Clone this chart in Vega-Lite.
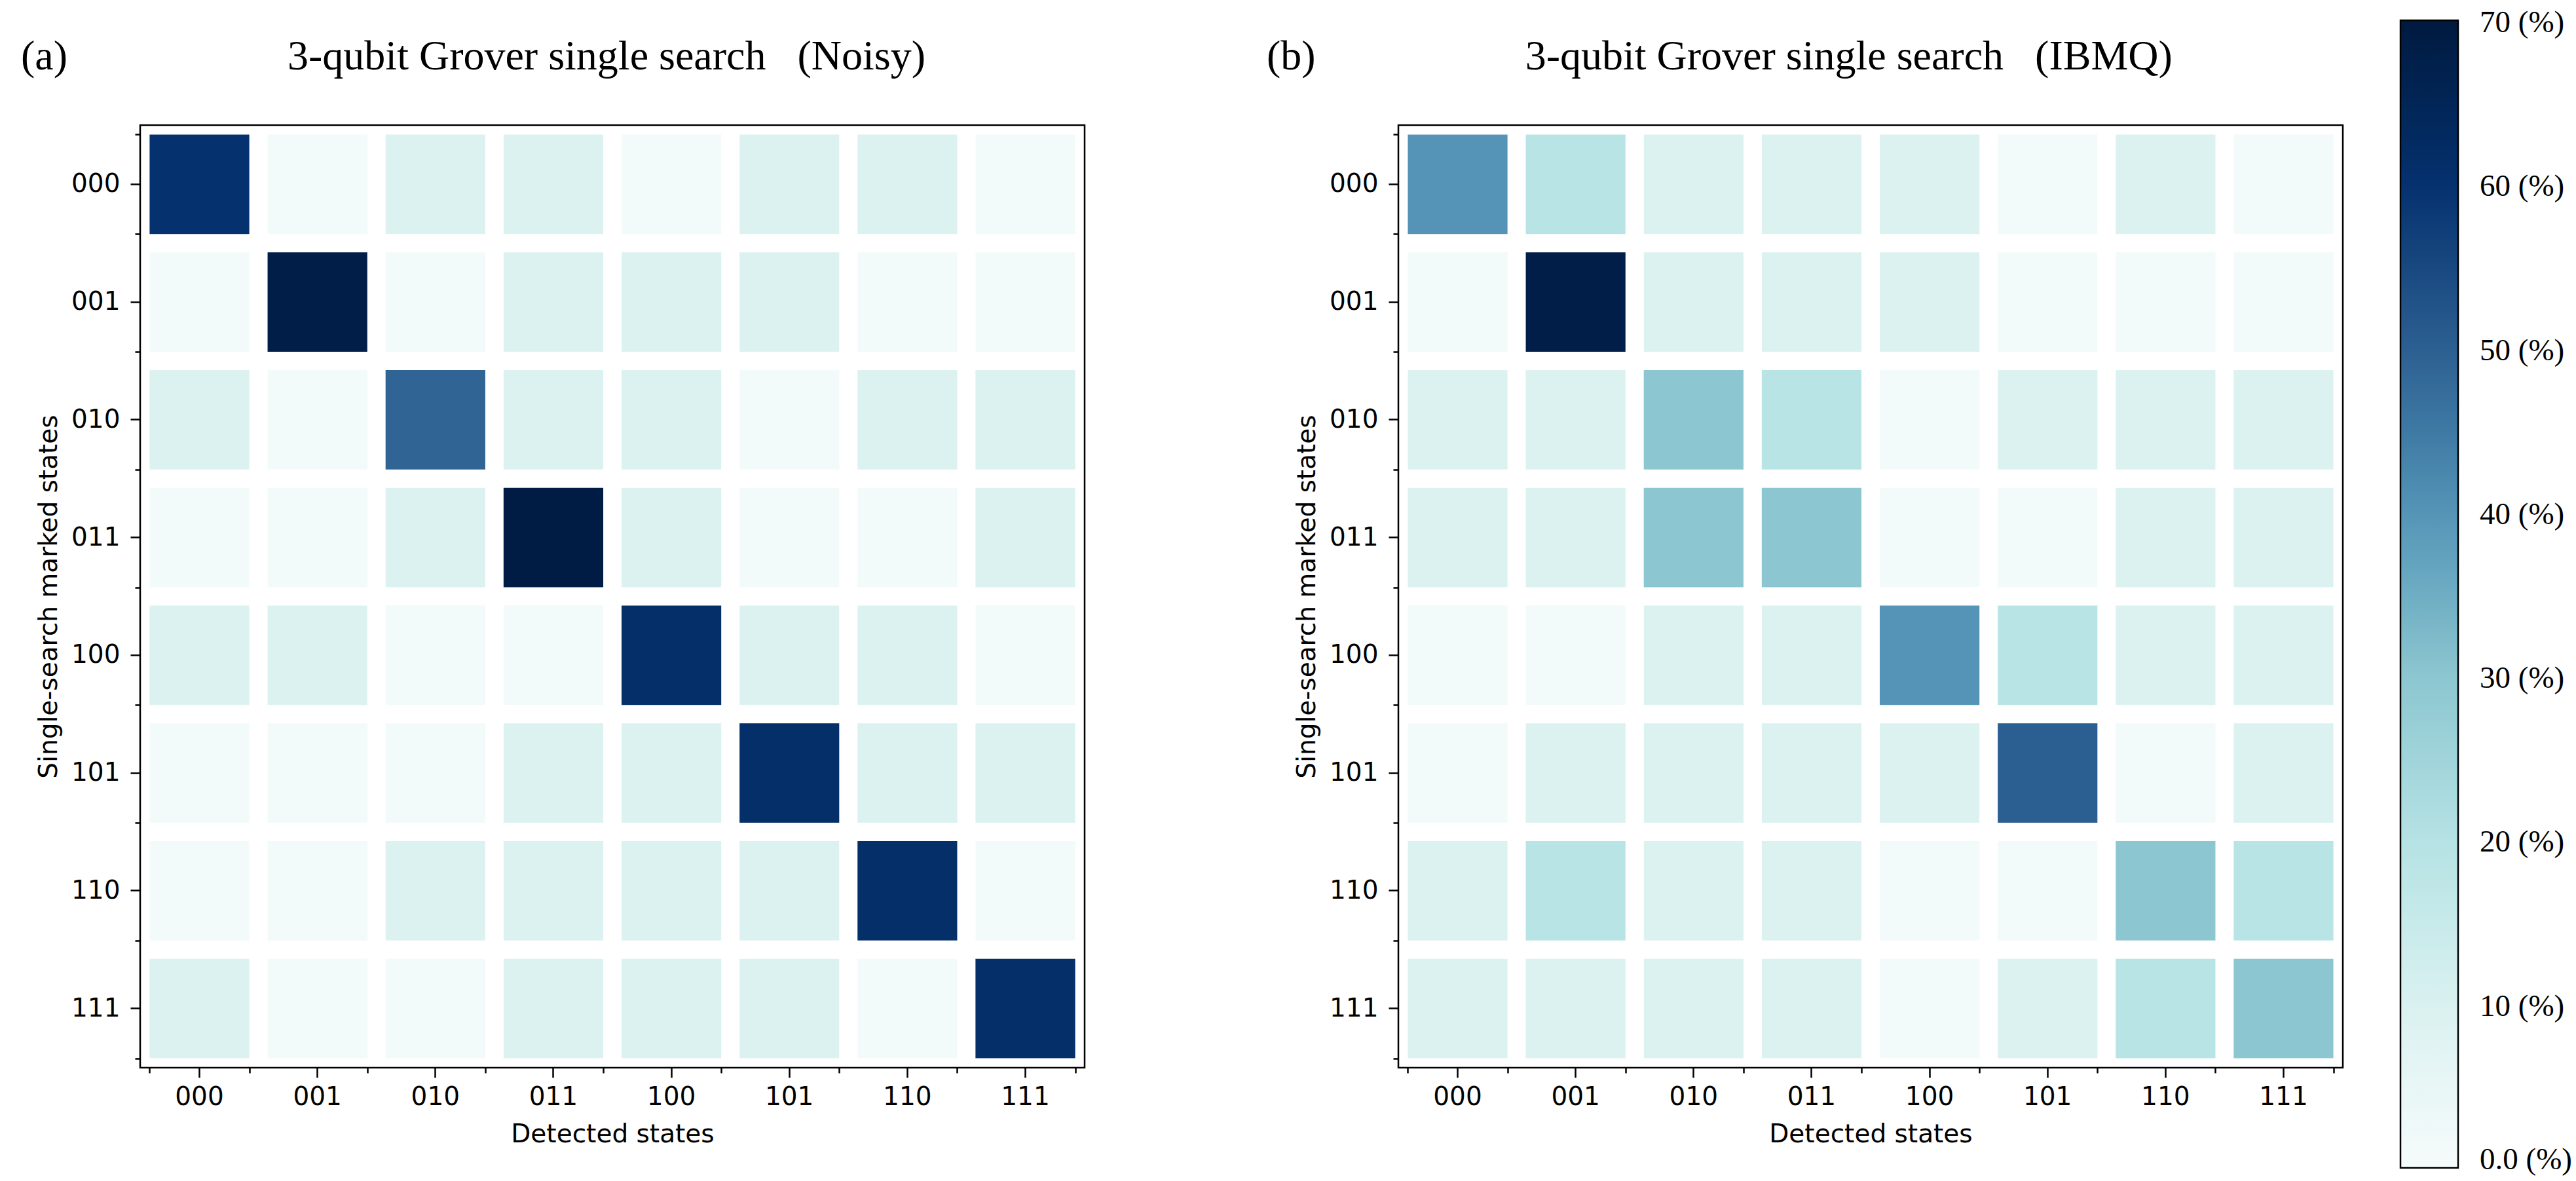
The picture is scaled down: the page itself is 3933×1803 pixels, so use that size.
{
  "$schema": "https://vega.github.io/schema/vega-lite/v6.json",
  "background": "white",
  "padding": {"left": 30, "top": 31, "right": 5, "bottom": 5},
  "bounds": "flush",
  "spacing": 479,
  "datasets": {
    "noisy": [
      {"marked": "000", "detected": "000", "pct": 60}, {"marked": "000", "detected": "001", "pct": 1}, {"marked": "000", "detected": "010", "pct": 9}, {"marked": "000", "detected": "011", "pct": 9}, {"marked": "000", "detected": "100", "pct": 1}, {"marked": "000", "detected": "101", "pct": 9}, {"marked": "000", "detected": "110", "pct": 9}, {"marked": "000", "detected": "111", "pct": 1},
      {"marked": "001", "detected": "000", "pct": 1}, {"marked": "001", "detected": "001", "pct": 68}, {"marked": "001", "detected": "010", "pct": 1}, {"marked": "001", "detected": "011", "pct": 9}, {"marked": "001", "detected": "100", "pct": 9}, {"marked": "001", "detected": "101", "pct": 9}, {"marked": "001", "detected": "110", "pct": 1}, {"marked": "001", "detected": "111", "pct": 1},
      {"marked": "010", "detected": "000", "pct": 9}, {"marked": "010", "detected": "001", "pct": 1}, {"marked": "010", "detected": "010", "pct": 49}, {"marked": "010", "detected": "011", "pct": 9}, {"marked": "010", "detected": "100", "pct": 9}, {"marked": "010", "detected": "101", "pct": 1}, {"marked": "010", "detected": "110", "pct": 9}, {"marked": "010", "detected": "111", "pct": 9},
      {"marked": "011", "detected": "000", "pct": 1}, {"marked": "011", "detected": "001", "pct": 1}, {"marked": "011", "detected": "010", "pct": 9}, {"marked": "011", "detected": "011", "pct": 69}, {"marked": "011", "detected": "100", "pct": 9}, {"marked": "011", "detected": "101", "pct": 1}, {"marked": "011", "detected": "110", "pct": 1}, {"marked": "011", "detected": "111", "pct": 9},
      {"marked": "100", "detected": "000", "pct": 9}, {"marked": "100", "detected": "001", "pct": 9}, {"marked": "100", "detected": "010", "pct": 1}, {"marked": "100", "detected": "011", "pct": 1}, {"marked": "100", "detected": "100", "pct": 61}, {"marked": "100", "detected": "101", "pct": 9}, {"marked": "100", "detected": "110", "pct": 9}, {"marked": "100", "detected": "111", "pct": 1},
      {"marked": "101", "detected": "000", "pct": 1}, {"marked": "101", "detected": "001", "pct": 1}, {"marked": "101", "detected": "010", "pct": 1}, {"marked": "101", "detected": "011", "pct": 9}, {"marked": "101", "detected": "100", "pct": 9}, {"marked": "101", "detected": "101", "pct": 61}, {"marked": "101", "detected": "110", "pct": 9}, {"marked": "101", "detected": "111", "pct": 9},
      {"marked": "110", "detected": "000", "pct": 1}, {"marked": "110", "detected": "001", "pct": 1}, {"marked": "110", "detected": "010", "pct": 9}, {"marked": "110", "detected": "011", "pct": 9}, {"marked": "110", "detected": "100", "pct": 9}, {"marked": "110", "detected": "101", "pct": 9}, {"marked": "110", "detected": "110", "pct": 61}, {"marked": "110", "detected": "111", "pct": 1},
      {"marked": "111", "detected": "000", "pct": 9}, {"marked": "111", "detected": "001", "pct": 1}, {"marked": "111", "detected": "010", "pct": 1}, {"marked": "111", "detected": "011", "pct": 9}, {"marked": "111", "detected": "100", "pct": 9}, {"marked": "111", "detected": "101", "pct": 9}, {"marked": "111", "detected": "110", "pct": 1}, {"marked": "111", "detected": "111", "pct": 61}
    ],
    "ibmq": [
      {"marked": "000", "detected": "000", "pct": 40}, {"marked": "000", "detected": "001", "pct": 19}, {"marked": "000", "detected": "010", "pct": 9}, {"marked": "000", "detected": "011", "pct": 9}, {"marked": "000", "detected": "100", "pct": 9}, {"marked": "000", "detected": "101", "pct": 1}, {"marked": "000", "detected": "110", "pct": 9}, {"marked": "000", "detected": "111", "pct": 1},
      {"marked": "001", "detected": "000", "pct": 1}, {"marked": "001", "detected": "001", "pct": 68}, {"marked": "001", "detected": "010", "pct": 9}, {"marked": "001", "detected": "011", "pct": 9}, {"marked": "001", "detected": "100", "pct": 9}, {"marked": "001", "detected": "101", "pct": 1}, {"marked": "001", "detected": "110", "pct": 1}, {"marked": "001", "detected": "111", "pct": 1},
      {"marked": "010", "detected": "000", "pct": 9}, {"marked": "010", "detected": "001", "pct": 9}, {"marked": "010", "detected": "010", "pct": 30}, {"marked": "010", "detected": "011", "pct": 19}, {"marked": "010", "detected": "100", "pct": 1}, {"marked": "010", "detected": "101", "pct": 9}, {"marked": "010", "detected": "110", "pct": 9}, {"marked": "010", "detected": "111", "pct": 9},
      {"marked": "011", "detected": "000", "pct": 9}, {"marked": "011", "detected": "001", "pct": 9}, {"marked": "011", "detected": "010", "pct": 30}, {"marked": "011", "detected": "011", "pct": 30}, {"marked": "011", "detected": "100", "pct": 1}, {"marked": "011", "detected": "101", "pct": 1}, {"marked": "011", "detected": "110", "pct": 9}, {"marked": "011", "detected": "111", "pct": 9},
      {"marked": "100", "detected": "000", "pct": 1}, {"marked": "100", "detected": "001", "pct": 1}, {"marked": "100", "detected": "010", "pct": 9}, {"marked": "100", "detected": "011", "pct": 9}, {"marked": "100", "detected": "100", "pct": 40}, {"marked": "100", "detected": "101", "pct": 19}, {"marked": "100", "detected": "110", "pct": 9}, {"marked": "100", "detected": "111", "pct": 9},
      {"marked": "101", "detected": "000", "pct": 1}, {"marked": "101", "detected": "001", "pct": 9}, {"marked": "101", "detected": "010", "pct": 9}, {"marked": "101", "detected": "011", "pct": 9}, {"marked": "101", "detected": "100", "pct": 9}, {"marked": "101", "detected": "101", "pct": 50}, {"marked": "101", "detected": "110", "pct": 1}, {"marked": "101", "detected": "111", "pct": 9},
      {"marked": "110", "detected": "000", "pct": 9}, {"marked": "110", "detected": "001", "pct": 19}, {"marked": "110", "detected": "010", "pct": 9}, {"marked": "110", "detected": "011", "pct": 9}, {"marked": "110", "detected": "100", "pct": 1}, {"marked": "110", "detected": "101", "pct": 1}, {"marked": "110", "detected": "110", "pct": 30}, {"marked": "110", "detected": "111", "pct": 19},
      {"marked": "111", "detected": "000", "pct": 9}, {"marked": "111", "detected": "001", "pct": 9}, {"marked": "111", "detected": "010", "pct": 9}, {"marked": "111", "detected": "011", "pct": 9}, {"marked": "111", "detected": "100", "pct": 1}, {"marked": "111", "detected": "101", "pct": 9}, {"marked": "111", "detected": "110", "pct": 19}, {"marked": "111", "detected": "111", "pct": 30}
    ]
  },
  "hconcat": [
    {
      "width": 1442,
      "height": 1439,
      "title": {"text": "(a)\u2003\u2003\u2003\u2003\u2003\u00a03-qubit Grover single search \u00a0\u00a0(Noisy)", "anchor": "start", "frame": "group", "dx": -182, "offset": 72},
      "data": {"name": "noisy"},
      "layer": [
        {
          "mark": {"type": "rect"},
          "encoding": {
            "x": {"field": "detected", "type": "ordinal", "scale": {"paddingInner": 0.155, "paddingOuter": 0.08},
                  "axis": {"orient": "bottom", "title": "Detected states", "labelAngle": 0, "tickSize": 15, "labelPadding": 10, "titlePadding": 18}},
            "y": {"field": "marked", "type": "ordinal", "scale": {"paddingInner": 0.155, "paddingOuter": 0.08},
                  "axis": {"orient": "left", "title": "Single-search marked states", "tickSize": 15, "labelPadding": 16, "titlePadding": 14}},
            "color": {"field": "pct", "type": "quantitative",
                      "scale": {"domain": [0, 10, 20, 30, 40, 50, 60, 70], "range": ["#f6fbfb", "#d9f1f0", "#b5e2e4", "#8cc6d0", "#5594b6", "#2c5f91", "#05316e", "#001a3f"]},
                      "legend": {"type": "gradient", "direction": "vertical", "orient": "none", "legendX": 3451, "legendY": -160, "title": null, "gradientLength": 1752, "gradientThickness": 88, "gradientStrokeColor": "black", "gradientStrokeWidth": 2.5, "labelFont": "Liberation Serif", "labelFontSize": 47, "labelColor": "black", "labelOffset": 33, "labelLimit": 400, "labelOverlap": false, "values": [0, 10, 20, 30, 40, 50, 60, 70], "labelExpr": "datum.value == 0 ? '0.0 (%)' : datum.value + ' (%)'", "padding": 0,
                                 "encode": {"labels": {"update": {"baseline": {"value": "middle"}, "dy": {"signal": "datum.value == 0 ? -12 : 4"}}}}}}
          }
        },
        {
          "mark": {"type": "rect", "opacity": 0},
          "encoding": {
            "x": {"field": "detected", "type": "ordinal", "axis": {"orient": "bottom", "tickBand": "extent", "labels": false, "title": null, "tickSize": 8}},
            "y": {"field": "marked", "type": "ordinal", "axis": {"orient": "left", "tickBand": "extent", "labels": false, "title": null, "tickSize": 8}}
          }
        }
      ],
      "resolve": {"axis": {"x": "independent", "y": "independent"}}
    },
    {
      "width": 1442,
      "height": 1439,
      "title": {"text": "(b)\u2003\u2003\u2003\u2003\u20033-qubit Grover single search \u00a0\u00a0(IBMQ)", "anchor": "start", "frame": "group", "dx": -201, "offset": 72},
      "data": {"name": "ibmq"},
      "layer": [
        {
          "mark": {"type": "rect"},
          "encoding": {
            "x": {"field": "detected", "type": "ordinal", "scale": {"paddingInner": 0.155, "paddingOuter": 0.08},
                  "axis": {"orient": "bottom", "title": "Detected states", "labelAngle": 0, "tickSize": 15, "labelPadding": 10, "titlePadding": 18}},
            "y": {"field": "marked", "type": "ordinal", "scale": {"paddingInner": 0.155, "paddingOuter": 0.08},
                  "axis": {"orient": "left", "title": "Single-search marked states", "tickSize": 15, "labelPadding": 16, "titlePadding": 14}},
            "color": {"field": "pct", "type": "quantitative",
                      "scale": {"domain": [0, 10, 20, 30, 40, 50, 60, 70], "range": ["#f6fbfb", "#d9f1f0", "#b5e2e4", "#8cc6d0", "#5594b6", "#2c5f91", "#05316e", "#001a3f"]},
                      "legend": {"type": "gradient", "direction": "vertical", "orient": "none", "legendX": 3451, "legendY": -160, "title": null, "gradientLength": 1752, "gradientThickness": 88, "gradientStrokeColor": "black", "gradientStrokeWidth": 2.5, "labelFont": "Liberation Serif", "labelFontSize": 47, "labelColor": "black", "labelOffset": 33, "labelLimit": 400, "labelOverlap": false, "values": [0, 10, 20, 30, 40, 50, 60, 70], "labelExpr": "datum.value == 0 ? '0.0 (%)' : datum.value + ' (%)'", "padding": 0,
                                 "encode": {"labels": {"update": {"baseline": {"value": "middle"}, "dy": {"signal": "datum.value == 0 ? -12 : 4"}}}}}}
          }
        },
        {
          "mark": {"type": "rect", "opacity": 0},
          "encoding": {
            "x": {"field": "detected", "type": "ordinal", "axis": {"orient": "bottom", "tickBand": "extent", "labels": false, "title": null, "tickSize": 8}},
            "y": {"field": "marked", "type": "ordinal", "axis": {"orient": "left", "tickBand": "extent", "labels": false, "title": null, "tickSize": 8}}
          }
        }
      ],
      "resolve": {"axis": {"x": "independent", "y": "independent"}}
    }
  ],
  "resolve": {"scale": {"color": "shared"}},
  "config": {
    "view": {"stroke": "black", "strokeWidth": 2.5},
    "axis": {"labelFont": "DejaVu Sans", "labelFontSize": 39, "labelColor": "black", "titleFont": "DejaVu Sans", "titleFontSize": 39, "titleFontWeight": "normal", "titleColor": "black", "tickColor": "black", "tickWidth": 2.5, "domain": false, "grid": false},
    "title": {"font": "Liberation Serif", "fontSize": 64, "fontWeight": "normal", "color": "black"}
  }
}
